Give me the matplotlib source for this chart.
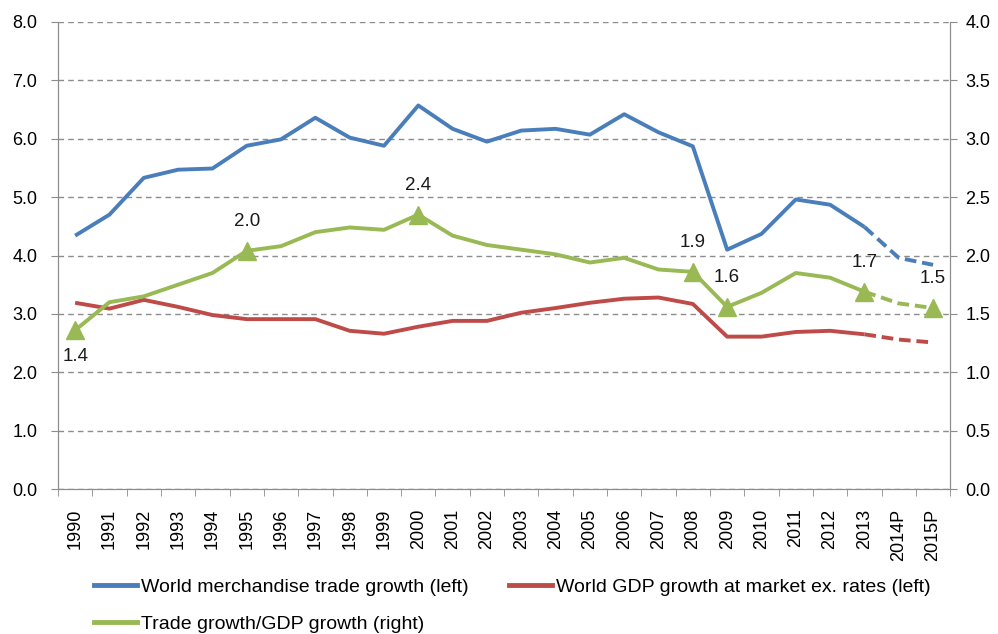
import matplotlib.pyplot as plt
import numpy as np

plt.rcParams['font.family'] = ['Liberation Sans', 'DejaVu Sans']

years = ["1990", "1991", "1992", "1993", "1994", "1995", "1996", "1997", "1998", "1999",
         "2000", "2001", "2002", "2003", "2004", "2005", "2006", "2007", "2008", "2009",
         "2010", "2011", "2012", "2013", "2014P", "2015P"]

trade = [4.34, 4.70, 5.33, 5.47, 5.49, 5.88, 5.99, 6.36, 6.02, 5.88,
         6.57, 6.17, 5.95, 6.14, 6.17, 6.07, 6.42, 6.11, 5.87, 4.10,
         4.37, 4.96, 4.87, 4.49, 3.96, 3.84]

gdp = [3.19, 3.09, 3.24, 3.12, 2.98, 2.91, 2.91, 2.91, 2.71, 2.66,
       2.78, 2.88, 2.88, 3.02, 3.10, 3.19, 3.26, 3.28, 3.17, 2.61,
       2.61, 2.69, 2.71, 2.65, 2.56, 2.51]

ratio = [1.36, 1.60, 1.65, 1.75, 1.85, 2.04, 2.08, 2.20, 2.24, 2.22,
         2.35, 2.17, 2.09, 2.05, 2.01, 1.94, 1.98, 1.88, 1.86, 1.56,
         1.68, 1.85, 1.81, 1.69, 1.59, 1.55]

# labelled points on the ratio line
marked = [0, 5, 10, 18, 19, 23, 25]
marked_text = ["1.4", "2.0", "2.4", "1.9", "1.6", "1.7", "1.5"]

blue = "#4A7EBB"
red = "#BE4B48"
green = "#98B954"
grey = "#8C8C8C"

fig = plt.figure(figsize=(9.98, 6.34), dpi=100)
ax = fig.add_axes([0.0581, 0.2287, 0.894, 0.7366])
ax2 = ax.twinx()

x = np.arange(len(years))
split = 23  # last actual year (2013), projections dashed after it
lw = 2.8

ax.plot(x[:split + 1], trade[:split + 1], color=blue, lw=lw, solid_capstyle="butt")
ax.plot(x[split:], trade[split:], color=blue, lw=lw, ls=(0, (3, 1.5)))
ax.plot(x[:split + 1], gdp[:split + 1], color=red, lw=lw, solid_capstyle="butt")
ax.plot(x[split:], gdp[split:], color=red, lw=lw, ls=(0, (3, 1.5)))

ax2.plot(x[:split + 1], ratio[:split + 1], color=green, lw=lw, solid_capstyle="butt")
ax2.plot(x[split:], ratio[split:], color=green, lw=lw, ls=(0, (3, 1.5)))
ax2.plot(x[marked], [ratio[i] for i in marked], ls="none", marker="^",
         ms=13, color=green)

for i, t in zip(marked, marked_text):
    dy = -19 if i == 0 else 21
    ax2.annotate(t, (x[i], ratio[i]), xytext=(0, dy), textcoords="offset points",
                 ha="center", va="center", fontsize=13.5, color="#1a1a1a")

ax.set_xlim(-0.5, len(years) - 0.5)
ax.set_ylim(0, 8)
ax2.set_ylim(0, 4)
ax.set_yticks(np.arange(0, 8.1, 1))
ax.set_yticklabels([f"{v:.1f}" for v in np.arange(0, 8.1, 1)])
ax2.set_yticks(np.arange(0, 4.01, 0.5))
ax2.set_yticklabels([f"{v:.1f}" for v in np.arange(0, 4.01, 0.5)])

ax.set_xticks(x)
ax.set_xticklabels(years, rotation=90, fontsize=13)
ax.set_xticks(np.arange(-0.5, len(years), 1), minor=True)
ax.tick_params(axis="x", which="major", length=0, pad=14)
ax.tick_params(axis="x", which="minor", length=5, color=grey)
ax.tick_params(axis="y", labelsize=13, length=5, color=grey, pad=10)
ax2.tick_params(axis="y", labelsize=13, length=5, color=grey, pad=6)

ax.yaxis.grid(True, ls=(0, (4, 3)), color=grey, lw=1)
ax.set_axisbelow(True)
for a in (ax, ax2):
    a.spines["top"].set_visible(False)
    for s in ("left", "right", "bottom"):
        a.spines[s].set_color(grey)

h1, = ax.plot([], [], color=blue, lw=3.5)
h2, = ax.plot([], [], color=red, lw=3.5)
h3, = ax.plot([], [], color=green, lw=3.5)
fig.legend([h1, h3, h2],
           ["World merchandise trade growth (left)", "Trade growth/GDP growth (right)",
            "World GDP growth at market ex. rates (left)"],
           ncol=2, loc="upper left", bbox_to_anchor=(0.077, 0.115), frameon=False,
           handlelength=2.2, handletextpad=0.2, columnspacing=2.1, labelspacing=1.0,
           prop={"size": 14})

fig.savefig("out.png", dpi=100)
